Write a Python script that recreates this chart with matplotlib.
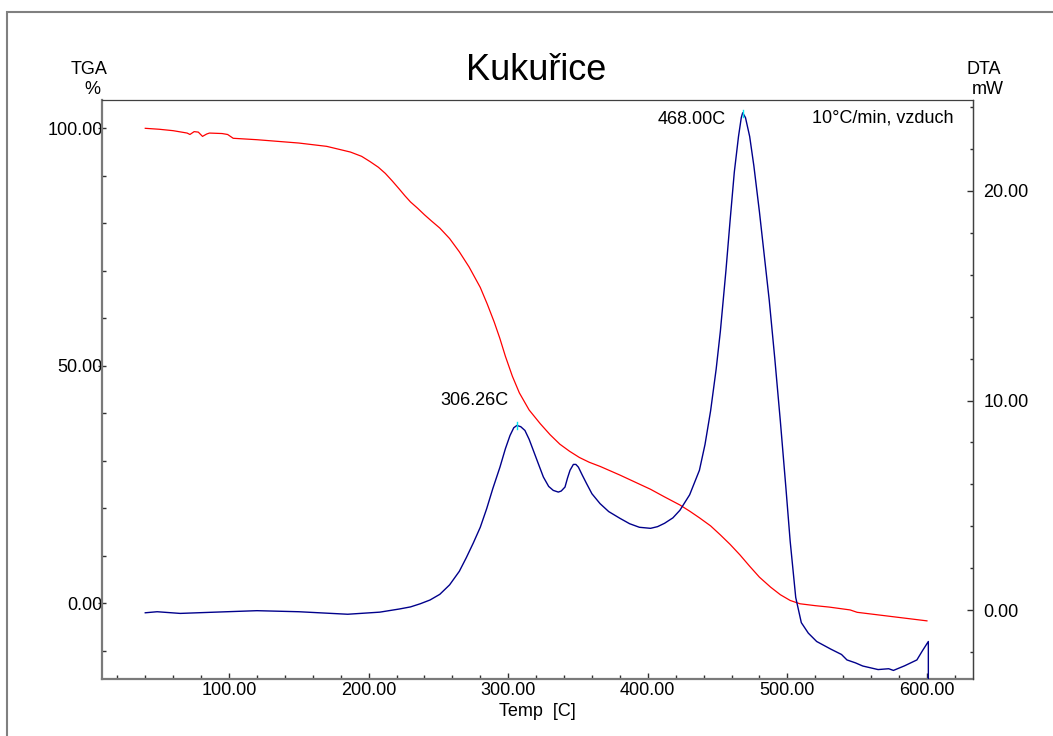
import matplotlib
matplotlib.use("Agg")
import matplotlib.pyplot as plt
from matplotlib.patches import Rectangle
from matplotlib.ticker import MultipleLocator, FormatStrFormatter
from matplotlib.transforms import Bbox

plt.rcParams['font.family'] = ['Liberation Sans', 'DejaVu Sans']

# TGA curve: temperature [C] vs. mass [%]
tga_temp = [40, 50, 60, 70, 72, 75, 78, 81, 84, 86, 95, 99, 103, 120, 150, 170,
            187, 195, 201, 207, 212, 217, 222, 226, 230, 235, 240, 245, 251, 258,
            265, 272, 280, 285, 290, 294, 298, 303, 308, 315, 323, 330, 337, 344,
            351, 358, 366, 373, 380, 391, 402, 412, 423, 430, 437, 445, 452, 459,
            466, 473, 480, 488, 495, 502, 509, 520, 530, 545, 550, 575, 600]
tga_mass = [100.0, 99.8, 99.5, 99.0, 98.7, 99.3, 99.2, 98.3, 98.8, 99.0, 98.9,
            98.7, 97.9, 97.6, 96.9, 96.2, 95.0, 94.1, 93.0, 91.8, 90.5, 88.9,
            87.2, 85.8, 84.5, 83.2, 81.8, 80.5, 79.0, 76.8, 74.0, 70.8, 66.5,
            63.0, 59.2, 55.8, 52.0, 47.8, 44.3, 40.7, 37.8, 35.5, 33.5, 32.0,
            30.7, 29.7, 28.8, 27.9, 27.0, 25.5, 24.0, 22.4, 20.7, 19.4, 18.0,
            16.3, 14.4, 12.4, 10.2, 7.8, 5.5, 3.4, 1.8, 0.6, -0.1, -0.5, -0.8,
            -1.4, -1.9, -2.8, -3.7]

# DTA curve: temperature [C] vs. heat flow [mW]
dta_temp = [40, 48.5, 65, 90, 120, 150, 185, 208, 222, 230, 237, 244, 251, 258,
            265, 270, 275, 280, 284.6, 289, 294.1, 298, 301.3, 304, 306.26, 309,
            312, 315, 318, 321.5, 325.2, 329, 332.3, 335.9, 338, 340.7, 342.5,
            344.3, 346.7, 348.5, 350.3, 353, 356.2, 360, 365.8, 372, 380, 387,
            394, 402, 407, 412, 418, 423, 430, 437, 441, 445, 449, 452, 456, 459,
            462, 465, 467, 468, 470, 473, 476, 480, 484, 487, 491, 495, 499, 502,
            506, 510, 515, 521, 531, 538.8, 542.7, 548.8, 554, 565, 572.6, 576,
            584, 592.8, 596.7, 601, 601.01]
dta_mw = [-0.13, -0.08, -0.16, -0.1, -0.03, -0.08, -0.2, -0.1, 0.05, 0.15, 0.3,
          0.48, 0.75, 1.2, 1.85, 2.5, 3.2, 3.95, 4.84, 5.8, 6.82, 7.7, 8.33, 8.7,
          8.81, 8.75, 8.57, 8.15, 7.62, 7.0, 6.35, 5.9, 5.71, 5.63, 5.68, 5.87,
          6.3, 6.67, 6.95, 6.95, 6.82, 6.45, 6.03, 5.55, 5.08, 4.7, 4.38, 4.12,
          3.95, 3.9, 3.98, 4.14, 4.4, 4.76, 5.5, 6.67, 7.9, 9.5, 11.5, 13.3, 16.2,
          18.6, 20.9, 22.6, 23.5, 23.73, 23.5, 22.6, 21.2, 19.0, 16.6, 14.8, 12.0,
          9.0, 5.8, 3.3, 0.6, -0.6, -1.1, -1.5, -1.86, -2.12, -2.38, -2.52, -2.67,
          -2.84, -2.8, -2.88, -2.66, -2.38, -1.95, -1.5, -4.0]

# Labelled DTA peaks
peak_temp = [306.26, 468.00]
peak_mw = [8.81, 23.73]
peak_labels = ['306.26C', '468.00C']

W, H = 1053, 736
fig = plt.figure(figsize=(W / 100, H / 100), dpi=100)

# outer frame
fig.patches.append(Rectangle((7 / W, -0.1), 1.2, (H - 12) / H + 0.1,
                             transform=fig.transFigure, fill=False,
                             ec='#808080', lw=1.5))

ax = fig.add_axes([102 / W, 1 - 679 / H, (973 - 102) / W, (679 - 100) / H])
ax2 = ax.twinx()

ax.set_xlim(9, 633)
ax.set_ylim(-15.94, 105.96)
ax2.set_ylim(-3.29, 24.34)

ax.plot(tga_temp, tga_mass, color='#ff0000', lw=0.9)
ax2.plot(dta_temp, dta_mw, color='#00008b', lw=1.0)

# peak markers with their temperature labels (label offsets in points)
label_offsets = [(-6, 18), (-12, -5)]
for t, v, lab, off in zip(peak_temp, peak_mw, peak_labels, label_offsets):
    ax2.plot([t, t], [v - 0.18, v + 0.15], color='#00e5ee', lw=1.0)
    ax2.annotate(lab, (t, v), xytext=off, textcoords='offset points',
                 ha='right', va='center', fontsize=13)

note = fig.text(812 / W, 1 - 118 / H, '10°C/min, vzduch', ha='left',
                va='center', fontsize=13)
note.set_clip_on(True)
note.set_clip_box(Bbox.from_extents(0, 0, 955, H))

# spines
for s in ('left', 'bottom'):
    ax.spines[s].set_color('#7a7a7a')
    ax.spines[s].set_linewidth(1.6)
for s in ('top', 'right'):
    ax.spines[s].set_color('#404040')
    ax.spines[s].set_linewidth(0.9)
for s in ax2.spines.values():
    s.set_visible(False)
ax2.spines['right'].set_visible(True)
ax2.spines['right'].set_color('#404040')
ax2.spines['right'].set_linewidth(0.9)

# ticks
fmt = FormatStrFormatter('%.2f')
ax.xaxis.set_major_locator(MultipleLocator(100))
ax.xaxis.set_minor_locator(MultipleLocator(20))
ax.xaxis.set_major_formatter(fmt)
ax.yaxis.set_major_locator(MultipleLocator(50))
ax.yaxis.set_minor_locator(MultipleLocator(10))
ax.yaxis.set_major_formatter(fmt)
ax2.yaxis.set_major_locator(MultipleLocator(10))
ax2.yaxis.set_minor_locator(MultipleLocator(2))
ax2.yaxis.set_major_formatter(fmt)

ax.tick_params(axis='x', which='both', direction='in', top=False,
               labelsize=13, pad=2.5, color='#303030', width=1.0)
ax.tick_params(axis='x', which='major', length=4.5)
ax.tick_params(axis='x', which='minor', length=3.2)
ax.tick_params(axis='y', which='major', direction='inout', length=6,
               labelsize=13, pad=-3.5, color='#303030', width=1.0)
ax.tick_params(axis='y', which='minor', direction='in', length=2.6,
               color='#303030', width=1.0)
ax.tick_params(axis='y', which='both', right=False)
ax2.tick_params(axis='y', which='major', direction='in', length=4,
                labelsize=13, pad=7.5, color='#303030', width=1.0)
ax2.tick_params(axis='y', which='minor', direction='in', length=2.5,
                color='#303030', width=1.0)

# titles and axis captions
fig.text(536 / W, 1 - 70 / H, 'Kukuřice', ha='center', va='center', fontsize=26)
fig.text(89 / W, 1 - 69 / H, 'TGA', ha='center', va='center', fontsize=13)
fig.text(92 / W, 1 - 89 / H, '%', ha='center', va='center', fontsize=13)
fig.text(984 / W, 1 - 69.5 / H, 'DTA', ha='center', va='center', fontsize=13)
fig.text(988 / W, 1 - 89 / H, 'mW', ha='center', va='center', fontsize=13)
fig.text(537 / W, 1 - 711 / H, 'Temp  [C]', ha='center', va='center', fontsize=13)

fig.savefig('out.png', dpi=100)
